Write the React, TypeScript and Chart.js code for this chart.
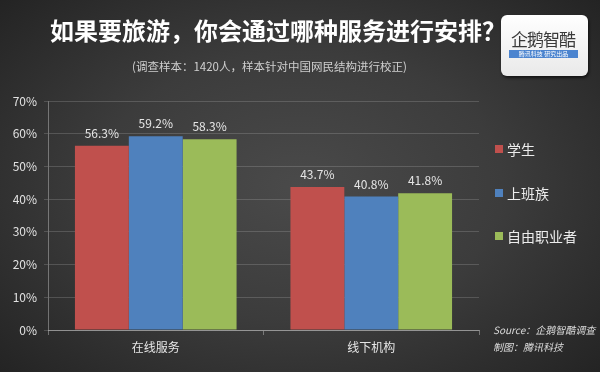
import React, { useEffect, useRef } from "react";
import { Chart, registerables } from "chart.js";

Chart.register(...registerables);

const categories = ["在线服务", "线下机构"];
const seriesNames = ["学生", "上班族", "自由职业者"];
const studentValues = [56.3, 43.7];
const workerValues = [59.2, 40.8];
const freelancerValues = [58.3, 41.8];
const seriesColors = ["#c0504d", "#4f81bd", "#9bbb59"];
const yTickMax = 70;
const yTickStep = 10;

const FONT = "'Noto Sans CJK SC', 'Noto Sans', sans-serif";

const dataLabelPlugin = {
  id: "dataLabels",
  afterDatasetsDraw(chart: any) {
    const ctx = chart.ctx;
    ctx.save();
    ctx.font = `12px ${FONT}`;
    ctx.fillStyle = "#e6e6e6";
    ctx.textAlign = "center";
    ctx.textBaseline = "middle";
    chart.data.datasets.forEach((ds: any, i: number) => {
      const meta = chart.getDatasetMeta(i);
      meta.data.forEach((bar: any, j: number) => {
        ctx.fillText(Number(ds.data[j]).toFixed(1) + "%", bar.x, bar.y - 12.5);
      });
    });
    ctx.restore();
  },
};

export default function App() {
  const canvasRef = useRef<HTMLCanvasElement | null>(null);

  useEffect(() => {
    document.body.style.margin = "0";
    const canvas = canvasRef.current;
    if (!canvas) return;
    const chart = new Chart(canvas, {
      type: "bar",
      data: {
        labels: categories,
        datasets: [studentValues, workerValues, freelancerValues].map((vals, i) => ({
          label: seriesNames[i],
          data: vals,
          backgroundColor: seriesColors[i],
          borderWidth: 0,
          categoryPercentage: 0.75,
          barPercentage: 1,
        })),
      },
      options: {
        responsive: false,
        animation: false,
        layout: { padding: { top: 101, right: 121, bottom: 0, left: 0 } },
        plugins: {
          legend: { display: false },
          tooltip: { enabled: false },
          title: { display: false },
        },
        scales: {
          x: {
            grid: {
              display: true,
              drawOnChartArea: false,
              drawTicks: true,
              tickLength: 5,
              color: "rgba(200,200,200,0.45)",
              offset: true,
            },
            border: { display: true, color: "rgba(200,200,200,0.55)", width: 1 },
            ticks: {
              color: "#e6e6e6",
              font: { family: FONT, size: 12 },
              padding: 5,
            },
            afterFit(scale: any) {
              scale.height = 42;
            },
          },
          y: {
            min: 0,
            max: yTickMax,
            grid: {
              color: "rgba(200,200,200,0.22)",
              tickLength: 4,
              drawTicks: true,
            },
            border: { display: true, color: "rgba(200,200,200,0.45)", width: 1 },
            ticks: {
              stepSize: yTickStep,
              color: "#e2e2e2",
              font: { family: FONT, size: 12 },
              padding: 7,
              callback: (v: any) => v + "%",
            },
            afterFit(scale: any) {
              scale.width = 48;
            },
          },
        },
      },
      plugins: [dataLabelPlugin],
    });
    return () => chart.destroy();
  }, []);

  const legendTops = [149, 193, 236];

  return (
    <div
      style={{
        position: "relative",
        width: 600,
        height: 372,
        overflow: "hidden",
        fontFamily: FONT,
        background:
          "radial-gradient(ellipse 75% 80% at 50% 50%, #4a4a4a 0%, #3c3c3c 45%, #272727 85%, #1f1f1f 100%)",
      }}
    >
      <canvas
        ref={canvasRef}
        width={600}
        height={372}
        style={{ position: "absolute", left: 0, top: 0, width: 600, height: 372 }}
      />
      <div
        style={{
          position: "absolute",
          left: 50,
          top: 17,
          fontSize: 24,
          lineHeight: "25px",
          fontWeight: 700,
          color: "#ffffff",
          whiteSpace: "nowrap",
        }}
      >
        如果要旅游，你会通过哪种服务进行安排？
      </div>
      <div
        style={{
          position: "absolute",
          left: 132,
          top: 59,
          fontSize: 11.5,
          lineHeight: "14px",
          color: "#cfcfcf",
          whiteSpace: "nowrap",
        }}
      >
        (调查样本：1420人，样本针对中国网民结构进行校正)
      </div>
      <div
        style={{
          position: "absolute",
          left: 501,
          top: 15,
          width: 87,
          height: 61,
          borderRadius: 6,
          background: "linear-gradient(#ffffff, #e9e9e9)",
          boxShadow: "1px 2px 3px rgba(0,0,0,0.6)",
        }}
      >
        <div
          style={{
            position: "absolute",
            left: 10,
            top: 15,
            fontSize: 17,
            lineHeight: "18px",
            color: "#3a3a3a",
            whiteSpace: "nowrap",
            letterSpacing: -1,
          }}
        >
          企鹅智酷
        </div>
        <div
          style={{
            position: "absolute",
            left: 8,
            top: 35,
            width: 69,
            height: 8,
            background: "#4b84cf",
            color: "#ffffff",
            fontSize: 6,
            lineHeight: "8px",
            textAlign: "center",
            whiteSpace: "nowrap",
          }}
        >
          腾讯科技 研究出品
        </div>
      </div>
      {seriesNames.map((name, i) => (
        <div
          key={name}
          style={{
            position: "absolute",
            left: 495,
            top: legendTops[i] - 9,
            height: 18,
            display: "flex",
            alignItems: "center",
            color: "#ececec",
            fontSize: 14,
            whiteSpace: "nowrap",
          }}
        >
          <span
            style={{
              display: "inline-block",
              width: 8,
              height: 8,
              background: seriesColors[i],
              marginRight: 4,
            }}
          />
          {name}
        </div>
      ))}
      <div
        style={{
          position: "absolute",
          left: 493,
          top: 323,
          fontSize: 10,
          lineHeight: "14px",
          fontStyle: "italic",
          color: "#dcdcdc",
          whiteSpace: "nowrap",
        }}
      >
        Source：企鹅智酷调查
      </div>
      <div
        style={{
          position: "absolute",
          left: 493,
          top: 340,
          fontSize: 10,
          lineHeight: "14px",
          fontStyle: "italic",
          color: "#dcdcdc",
          whiteSpace: "nowrap",
        }}
      >
        制图：腾讯科技
      </div>
    </div>
  );
}
